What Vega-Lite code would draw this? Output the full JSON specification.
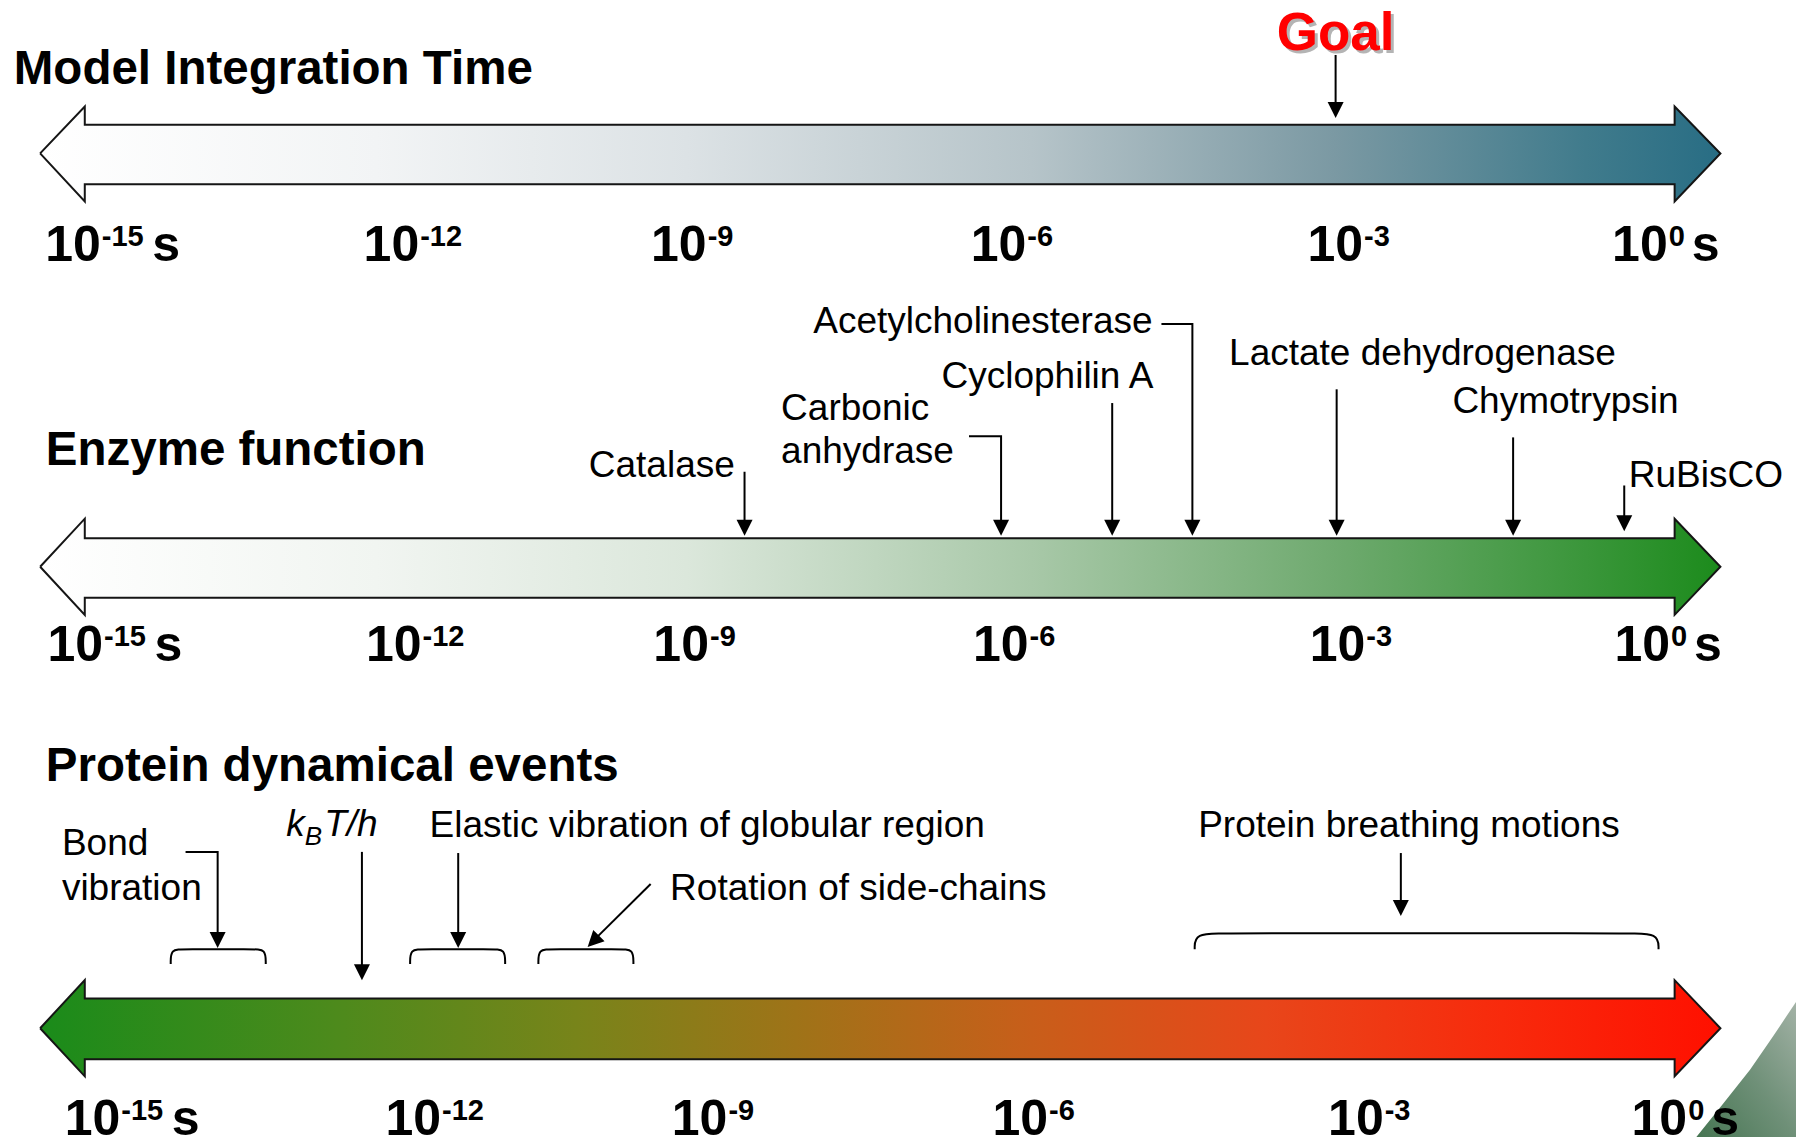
{
"$schema": "https://vega.github.io/schema/vega-lite/v6.json",
"width": 1796, "height": 1137,
"autosize": {"type": "none"},
"padding": 0,
"background": "white",
"config": {"view": {"stroke": null}},
"datasets": {
"deco": [
{"i":0,"t":1.49,"y":875},{"i":1,"t":1.271,"y":905},{"i":2,"t":1.052,"y":934},{"i":3,"t":0.8,"y":963},{"i":4,"t":0.537,"y":993},{"i":5,"t":1.49,"y":993},{"i":6,"t":1.49,"y":875}
],
"arrows": [
{"a":"top","i":0,"t":-15.306,"y":134},{"a":"top","i":1,"t":-14.879,"y":93},{"a":"top","i":2,"t":-14.879,"y":109},{"a":"top","i":3,"t":0.329,"y":109},{"a":"top","i":4,"t":0.329,"y":93},{"a":"top","i":5,"t":0.767,"y":134},{"a":"top","i":6,"t":0.329,"y":176},{"a":"top","i":7,"t":0.329,"y":161},{"a":"top","i":8,"t":-14.879,"y":161},{"a":"top","i":9,"t":-14.879,"y":176},{"a":"top","i":10,"t":-15.306,"y":134},
{"a":"mid","i":0,"t":-15.306,"y":495},{"a":"mid","i":1,"t":-14.879,"y":453},{"a":"mid","i":2,"t":-14.879,"y":470},{"a":"mid","i":3,"t":0.329,"y":470},{"a":"mid","i":4,"t":0.329,"y":453},{"a":"mid","i":5,"t":0.767,"y":495},{"a":"mid","i":6,"t":0.329,"y":537},{"a":"mid","i":7,"t":0.329,"y":522},{"a":"mid","i":8,"t":-14.879,"y":522},{"a":"mid","i":9,"t":-14.879,"y":537},{"a":"mid","i":10,"t":-15.306,"y":495},
{"a":"bot","i":0,"t":-15.306,"y":898},{"a":"bot","i":1,"t":-14.879,"y":856},{"a":"bot","i":2,"t":-14.879,"y":872},{"a":"bot","i":3,"t":0.329,"y":872},{"a":"bot","i":4,"t":0.329,"y":856},{"a":"bot","i":5,"t":0.767,"y":898},{"a":"bot","i":6,"t":0.329,"y":940},{"a":"bot","i":7,"t":0.329,"y":925},{"a":"bot","i":8,"t":-14.879,"y":925},{"a":"bot","i":9,"t":-14.879,"y":940},{"a":"bot","i":10,"t":-15.306,"y":898}
],
"brackets": [
{"id":"b1","i":0,"t":-14.057,"y":842},{"id":"b1","i":1,"t":-14.057,"y":829},{"id":"b1","i":2,"t":-13.937,"y":829},{"id":"b1","i":3,"t":-13.268,"y":829},{"id":"b1","i":4,"t":-13.148,"y":829},{"id":"b1","i":5,"t":-13.148,"y":842},
{"id":"b2","i":0,"t":-11.767,"y":842},{"id":"b2","i":1,"t":-11.767,"y":829},{"id":"b2","i":2,"t":-11.647,"y":829},{"id":"b2","i":3,"t":-10.978,"y":829},{"id":"b2","i":4,"t":-10.858,"y":829},{"id":"b2","i":5,"t":-10.858,"y":842},
{"id":"b3","i":0,"t":-10.54,"y":842},{"id":"b3","i":1,"t":-10.54,"y":829},{"id":"b3","i":2,"t":-10.42,"y":829},{"id":"b3","i":3,"t":-9.751,"y":829},{"id":"b3","i":4,"t":-9.631,"y":829},{"id":"b3","i":5,"t":-9.631,"y":842},
{"id":"b4","i":0,"t":-4.262,"y":829},{"id":"b4","i":1,"t":-4.262,"y":815},{"id":"b4","i":2,"t":-3.966,"y":815},{"id":"b4","i":3,"t":-0.121,"y":815},{"id":"b4","i":4,"t":0.175,"y":815},{"id":"b4","i":5,"t":0.175,"y":829}
],
"leaders": [
{"id":"goal","i":0,"t":-2.914,"y":48},{"id":"goal","i":1,"t":-2.914,"y":98},
{"id":"ache","i":0,"t":-4.58,"y":283},{"id":"ache","i":1,"t":-4.284,"y":283},{"id":"ache","i":2,"t":-4.284,"y":463},
{"id":"cyc","i":0,"t":-5.051,"y":352},{"id":"cyc","i":1,"t":-5.051,"y":463},
{"id":"ca","i":0,"t":-6.421,"y":381},{"id":"ca","i":1,"t":-6.114,"y":381},{"id":"ca","i":2,"t":-6.114,"y":463},
{"id":"cat","i":0,"t":-8.568,"y":412},{"id":"cat","i":1,"t":-8.568,"y":463},
{"id":"ldh","i":0,"t":-2.904,"y":340},{"id":"ldh","i":1,"t":-2.904,"y":463},
{"id":"chy","i":0,"t":-1.216,"y":382},{"id":"chy","i":1,"t":-1.216,"y":463},
{"id":"rub","i":0,"t":-0.153,"y":424},{"id":"rub","i":1,"t":-0.153,"y":459},
{"id":"bond","i":0,"t":-13.915,"y":744},{"id":"bond","i":1,"t":-13.608,"y":744},{"id":"bond","i":2,"t":-13.608,"y":823},
{"id":"kbt","i":0,"t":-12.228,"y":744},{"id":"kbt","i":1,"t":-12.228,"y":851},
{"id":"ela","i":0,"t":-11.307,"y":745},{"id":"ela","i":1,"t":-11.307,"y":823},
{"id":"rot","i":0,"t":-9.466,"y":772},{"id":"rot","i":1,"t":-10.03,"y":823},
{"id":"bre","i":0,"t":-2.29,"y":745},{"id":"bre","i":1,"t":-2.29,"y":795}
],
"heads": [
{"t":-2.914,"y":103,"ang":0},{"t":-4.284,"y":468,"ang":0},{"t":-5.051,"y":468,"ang":0},{"t":-6.114,"y":468,"ang":0},{"t":-8.568,"y":468,"ang":0},{"t":-2.904,"y":468,"ang":0},{"t":-1.216,"y":468,"ang":0},{"t":-0.153,"y":464,"ang":0},
{"t":-13.608,"y":828,"ang":0},{"t":-12.228,"y":856,"ang":0},{"t":-11.307,"y":828,"ang":0},{"t":-10.069,"y":827,"ang":45},{"t":-2.29,"y":800,"ang":0}
],
"titles": [
{"label":"Model Integration Time","t":-15.558,"y":73},
{"label":"Enzyme function","t":-15.252,"y":406},
{"label":"Protein dynamical events","t":-15.252,"y":682}
],
"notes": [
{"label":"Acetylcholinesterase","t":-7.911,"y":291},
{"label":"Cyclophilin A","t":-6.684,"y":339},
{"label":"Carbonic","t":-8.218,"y":367},
{"label":"anhydrase","t":-8.218,"y":404},
{"label":"Catalase","t":-10.058,"y":417},
{"label":"Lactate dehydrogenase","t":-3.933,"y":319},
{"label":"Chymotrypsin","t":-1.797,"y":361},
{"label":"RuBisCO","t":-0.11,"y":425},
{"label":"Bond","t":-15.098,"y":747},
{"label":"vibration","t":-15.098,"y":786},
{"label":"Elastic vibration of globular region","t":-11.581,"y":731},
{"label":"Rotation of side-chains","t":-9.28,"y":786},
{"label":"Protein breathing motions","t":-4.229,"y":731}
],
"kbt": [
{"label":"k","t":-12.951,"y":730},
{"label":"T/h","t":-12.589,"y":730}
],
"kbtsub": [
{"label":"B","t":-12.775,"y":738}
],
"ticks": [
{"e":"-15","t":-14.726,"y":228},{"e":"-12","t":-11.68,"y":228},{"e":"-9","t":-8.93,"y":228},{"e":"-6","t":-5.873,"y":228},{"e":"-3","t":-2.651,"y":228},{"e":"0","t":0.263,"y":228},
{"e":"-15","t":-14.704,"y":577},{"e":"-12","t":-11.658,"y":577},{"e":"-9","t":-8.908,"y":577},{"e":"-6","t":-5.851,"y":577},{"e":"-3","t":-2.63,"y":577},{"e":"0","t":0.285,"y":577},
{"e":"-15","t":-14.539,"y":991},{"e":"-12","t":-11.471,"y":991},{"e":"-9","t":-8.732,"y":991},{"e":"-6","t":-5.665,"y":991},{"e":"-3","t":-2.454,"y":991},{"e":"0","t":0.449,"y":991}
],
"units": [
{"label":"s","t":-14.233,"y":228},{"label":"s","t":0.493,"y":228},
{"label":"s","t":-14.211,"y":577},{"label":"s","t":0.515,"y":577},
{"label":"s","t":-14.046,"y":991},{"label":"s","t":0.679,"y":991}
],
"goal": [
{"label":"Goal","t":-2.914,"y":44}
]
},
"encoding": {
"x": {"field":"t","type":"quantitative","scale":{"domain":[-15.69,1.49],"nice":false,"zero":false},"axis":null},
"y": {"field":"y","type":"quantitative","scale":{"domain":[0,993],"reverse":true,"nice":false,"zero":false},"axis":null}
},
"layer": [
{"data":{"name":"deco"},
 "mark":{"type":"line","strokeWidth":0,"stroke":null,"fill":{"gradient":"linear","x1":1,"y1":0,"x2":0,"y2":1,"stops":[{"offset":0,"color":"#a3b2a6"},{"offset":0.5,"color":"#6f9078"},{"offset":1,"color":"#467552"}]}},
 "encoding":{"order":{"field":"i","type":"quantitative"}}},
{"data":{"name":"arrows"},"transform":[{"filter":"datum.a === 'top'"}],
 "mark":{"type":"line","stroke":"#151515","strokeWidth":2,"strokeJoin":"miter","fill":{"gradient":"linear","x1":0,"y1":0,"x2":1,"y2":0,"stops":[{"offset":0,"color":"#ffffff"},{"offset":0.2,"color":"#f2f4f5"},{"offset":0.385,"color":"#dce2e5"},{"offset":0.59,"color":"#b6c4c9"},{"offset":0.77,"color":"#7b99a3"},{"offset":0.92,"color":"#407b8c"},{"offset":1,"color":"#286d84"}]}},
 "encoding":{"order":{"field":"i","type":"quantitative"}}},
{"data":{"name":"arrows"},"transform":[{"filter":"datum.a === 'mid'"}],
 "mark":{"type":"line","stroke":"#151515","strokeWidth":2,"strokeJoin":"miter","fill":{"gradient":"linear","x1":0,"y1":0,"x2":1,"y2":0,"stops":[{"offset":0,"color":"#ffffff"},{"offset":0.2,"color":"#f1f5f1"},{"offset":0.385,"color":"#dbe7db"},{"offset":0.59,"color":"#a8c8a8"},{"offset":0.77,"color":"#6faa6f"},{"offset":0.92,"color":"#3a963a"},{"offset":1,"color":"#1c8b1c"}]}},
 "encoding":{"order":{"field":"i","type":"quantitative"}}},
{"data":{"name":"arrows"},"transform":[{"filter":"datum.a === 'bot'"}],
 "mark":{"type":"line","stroke":"#151515","strokeWidth":2,"strokeJoin":"miter","fill":{"gradient":"linear","x1":0,"y1":0,"x2":1,"y2":0,"stops":[{"offset":0,"color":"#1a8b1a"},{"offset":0.18,"color":"#4e8a1c"},{"offset":0.32,"color":"#78841a"},{"offset":0.45,"color":"#9f7318"},{"offset":0.59,"color":"#c85e1a"},{"offset":0.73,"color":"#e8461a"},{"offset":0.87,"color":"#f82a0c"},{"offset":1,"color":"#ff1000"}]}},
 "encoding":{"order":{"field":"i","type":"quantitative"}}},
{"data":{"name":"brackets"},
 "mark":{"type":"line","interpolate":"basis","stroke":"black","strokeWidth":2},
 "encoding":{"detail":{"field":"id"},"order":{"field":"i","type":"quantitative"}}},
{"data":{"name":"leaders"},
 "mark":{"type":"line","stroke":"black","strokeWidth":2,"strokeJoin":"miter"},
 "encoding":{"detail":{"field":"id"},"order":{"field":"i","type":"quantitative"}}},
{"data":{"name":"heads"},
 "mark":{"type":"point","shape":"M-1,-2L1,-2L0,0Z","filled":true,"color":"black","opacity":1,"size":256,"strokeWidth":0},
 "encoding":{"angle":{"field":"ang","type":"quantitative","scale":null}}},
{"data":{"name":"titles"},
 "mark":{"type":"text","align":"left","baseline":"alphabetic","font":"Liberation Sans","fontWeight":"bold","fontSize":47.5,"color":"black"},
 "encoding":{"text":{"field":"label"}}},
{"data":{"name":"notes"},
 "mark":{"type":"text","align":"left","baseline":"alphabetic","font":"Liberation Sans","fontSize":37,"color":"black"},
 "encoding":{"text":{"field":"label"}}},
{"data":{"name":"kbt"},
 "mark":{"type":"text","align":"left","baseline":"alphabetic","font":"Liberation Sans","fontStyle":"italic","fontSize":37,"color":"black"},
 "encoding":{"text":{"field":"label"}}},
{"data":{"name":"kbtsub"},
 "mark":{"type":"text","align":"left","baseline":"alphabetic","font":"Liberation Sans","fontStyle":"italic","fontSize":26,"color":"black"},
 "encoding":{"text":{"field":"label"}}},
{"data":{"name":"ticks"},
 "mark":{"type":"text","align":"right","baseline":"alphabetic","font":"Liberation Sans","fontWeight":"bold","fontSize":50,"color":"black"},
 "encoding":{"text":{"value":"10"}}},
{"data":{"name":"ticks"},
 "mark":{"type":"text","align":"left","baseline":"alphabetic","font":"Liberation Sans","fontWeight":"bold","fontSize":29,"dy":-15,"dx":1,"color":"black"},
 "encoding":{"text":{"field":"e"}}},
{"data":{"name":"units"},
 "mark":{"type":"text","align":"left","baseline":"alphabetic","font":"Liberation Sans","fontWeight":"bold","fontSize":50,"color":"black"},
 "encoding":{"text":{"field":"label"}}},
{"data":{"name":"goal"},
 "mark":{"type":"text","align":"center","baseline":"alphabetic","font":"Liberation Sans","fontWeight":"bold","fontSize":53,"color":"#b4b4b4","dx":3,"dy":3},
 "encoding":{"text":{"field":"label"}}},
{"data":{"name":"goal"},
 "mark":{"type":"text","align":"center","baseline":"alphabetic","font":"Liberation Sans","fontWeight":"bold","fontSize":53,"color":"#ff0000"},
 "encoding":{"text":{"field":"label"}}}
]
}
